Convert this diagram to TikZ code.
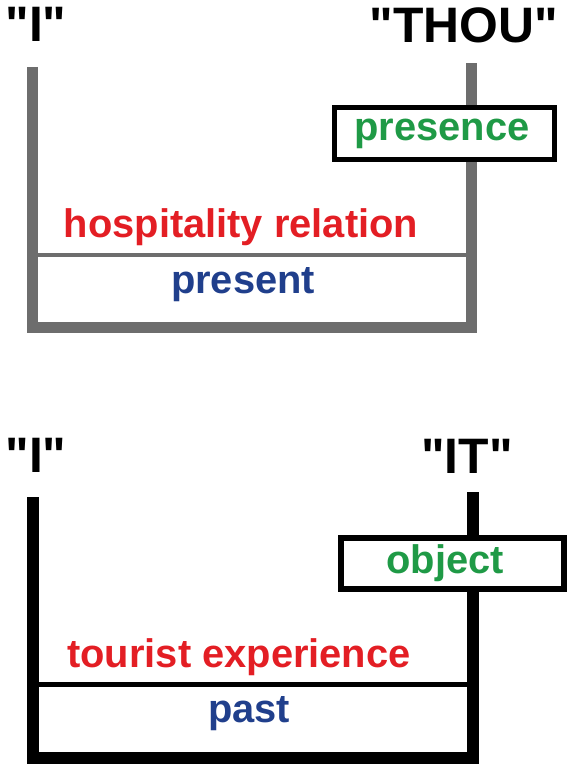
\documentclass[tikz,border=0pt]{standalone}
\usepackage{fontspec}
% straight typewriter quotes are wanted in the labels, so no TeX mapping
\setmainfont{Liberation Sans}[Ligatures=TeXOff]
\definecolor{bargray}{HTML}{6D6D6D}
\definecolor{relred}{HTML}{E31E24}
\definecolor{timeblue}{HTML}{203F8C}
\definecolor{objgreen}{HTML}{1F9A46}
\begin{document}
\begin{tikzpicture}[x=1bp,y=-1bp,
  pole/.style={font=\fontsize{50}{56}\selectfont\bfseries, anchor=base, inner sep=0},
  relation/.style={font=\fontsize{40}{46}\selectfont\bfseries, anchor=base, inner sep=0, text=relred},
  tense/.style={font=\fontsize{40}{46}\selectfont\bfseries, anchor=base, inner sep=0, text=timeblue},
  other/.style={font=\fontsize{40}{46}\selectfont\bfseries, anchor=base, inner sep=0, text=objgreen},
  frame/.style={draw, fill=white, inner sep=0, rectangle},
]
\useasboundingbox (0,0) rectangle (568,764);

% ---------- upper diagram: I -- THOU ----------
\node[pole] (i1) at (36,42) {"I"};
\node[pole] (thou) at (464,43) {"THOU"};

\coordinate (a1) at (32,67);
\coordinate (a2) at (32,327);
\coordinate (a3) at (471.5,327);
\coordinate (a4) at (471.5,63);
\draw[bargray, line width=11bp] (a1) -- (a2) -- (a3) -- (a4);
\coordinate (h1) at (37,255);
\coordinate (h2) at (466,255);
\draw[bargray, line width=4bp] (h1) -- (h2);

\node[frame, line width=5bp, minimum width=220bp, minimum height=52bp] (pbox) at (444.5,133.5) {};
\node[other] (presence) at (442,140) {presence};
\node[relation] (hosp) at (241,237) {hospitality relation};
\node[tense] (present) at (243,293) {present};

% ---------- lower diagram: I -- IT ----------
\node[pole] (i2) at (36,472) {"I"};
\node[pole] (it) at (467,473) {"IT"};

\coordinate (b1) at (33,497);
\coordinate (b2) at (33,757.5);
\coordinate (b3) at (472.5,757.5);
\coordinate (b4) at (472.5,492);
\draw[black, line width=12bp] (b1) -- (b2) -- (b3) -- (b4);
\coordinate (k1) at (39,684.5);
\coordinate (k2) at (467,684.5);
\draw[black, line width=5bp] (k1) -- (k2);

\node[frame, line width=6bp, minimum width=223bp, minimum height=51bp] (obox) at (452.5,563.5) {};
\node[other] (object) at (445,573) {object};
\node[relation] (tour) at (239,667) {tourist experience};
\node[tense] (past) at (249,722) {past};
\end{tikzpicture}
\end{document}
